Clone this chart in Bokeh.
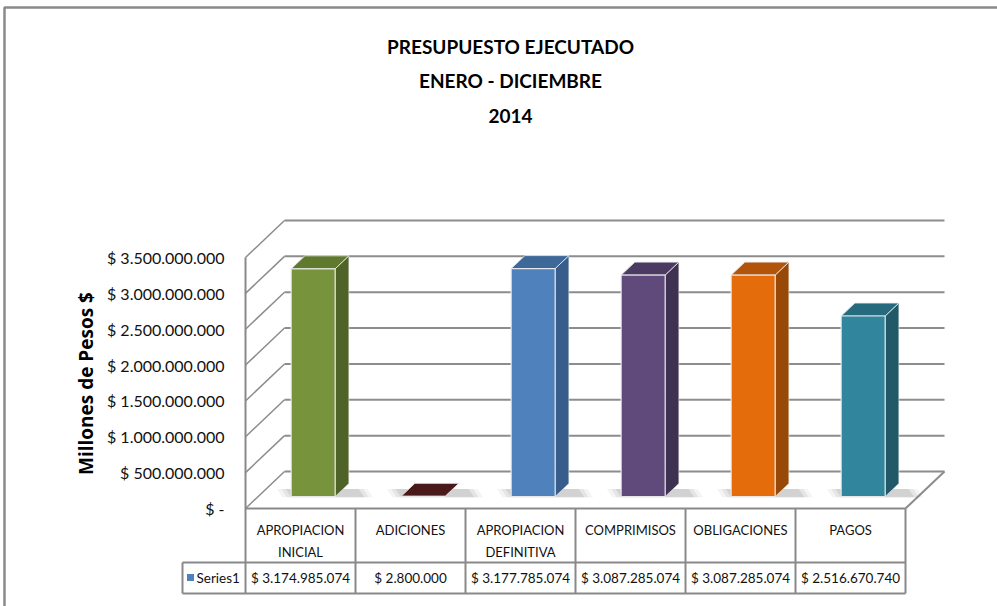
import numpy as np
from bokeh.plotting import figure
from bokeh.models import Range1d
from bokeh.core.properties import value
from bokeh.embed import file_html
from bokeh.resources import INLINE

# ---------------- data ----------------
categories = ["APROPIACION\nINICIAL", "ADICIONES", "APROPIACION\nDEFINITIVA",
              "COMPRIMISOS", "OBLIGACIONES", "PAGOS"]
values = [3174985074, 2800000, 3177785074, 3087285074, 3087285074, 2516670740]
series_name = "Series1"
front_colors = ["#77933C", "#632523", "#4F81BD", "#604A7B", "#E46C0A", "#31859C"]
top_colors = ["#5F7A2F", "#4A1A1A", "#3E6898", "#4B3B62", "#B2540A", "#266B7D"]
side_colors = ["#4F6228", "#3D1616", "#385D8A", "#3F3151", "#984807", "#215968"]
y_ticks = [0, 500000000, 1000000000, 1500000000, 2000000000,
           2500000000, 3000000000, 3500000000]
y_tick_labels = ["$ -", "$ 500.000.000", "$ 1.000.000.000", "$ 1.500.000.000",
                 "$ 2.000.000.000", "$ 2.500.000.000", "$ 3.000.000.000",
                 "$ 3.500.000.000"]
title_lines = ["PRESUPUESTO EJECUTADO", "ENERO - DICIEMBRE", "2014"]
y_axis_title = "Millones de Pesos $"
legend_color = "#4F81BD"

# ---------------- layout (pixels) ----------------
W, H = 997, 606
FRONT_LEFT_PX = 245
COL_PX = 110
ZERO_PX = 508
TOP_TICK_PX = 257
DEPTH_DX_PX = 39
DEPTH_DY_PX = 37
PX_PER_VAL = (ZERO_PX - TOP_TICK_PX) / y_ticks[-1]


def px2x(px):
    return (px - FRONT_LEFT_PX) / COL_PX - 0.5


def px2y(py):
    return (ZERO_PX - py) / PX_PER_VAL


DX = DEPTH_DX_PX / COL_PX
DY = DEPTH_DY_PX / PX_PER_VAL
n = len(categories)

p = figure(width=W, height=H, min_border=0, output_backend="svg",
           toolbar_location=None, x_axis_type=None, y_axis_type=None,
           x_range=Range1d(px2x(0), px2x(W)), y_range=Range1d(px2y(H), px2y(0)))
p.outline_line_color = None
p.background_fill_color = "white"
p.border_fill_color = "white"

GRID = "#8C8C8C"
FONT = value("Lato")

# outer chart border (top & left)
p.line([px2x(4), px2x(4), px2x(W + 5)], [px2y(H + 5), px2y(7), px2y(7)],
       line_color="#8A8A8A", line_width=2.5)

# ---------------- walls / floor ----------------
left_x = -0.5
right_x = n - 0.5
p.multi_line([[left_x + DX, right_x + DX] for _ in y_ticks],
             [[t + DY, t + DY] for t in y_ticks], line_color=GRID, line_width=2)
p.multi_line([[left_x, left_x + DX] for _ in y_ticks],
             [[t, t + DY] for t in y_ticks], line_color=GRID, line_width=1.5)
p.line([right_x, right_x + DX], [0, DY], line_color=GRID, line_width=2)

# ---------------- bars ----------------
z0, z1 = 12 / 37, 25 / 37
bw = 0.2
xs = np.arange(n)
lf = xs - bw + z0 * DX
rf = xs + bw + z0 * DX
lb = xs - bw + z1 * DX
rb = xs + bw + z1 * DX
vals = np.array(values, dtype=float)
b0 = z0 * DY
b1 = z1 * DY
t0 = vals + z0 * DY
t1 = vals + z1 * DY

# soft shadows on floor
for k, a in [(0.10, 0.07), (0.06, 0.10), (0.02, 0.14)]:
    sx = [[lf[i] - k + 0.02, rb[i] + k + 0.12, rb[i] + k + 0.12 - 0.05, lf[i] - k - 0.03]
          for i in range(n)]
    sy = [[b0 - 0.02 * DY, b0 - 0.02 * DY, b1 - 0.15 * DY, b1 - 0.15 * DY] for _ in range(n)]
    p.patches(sx, sy, fill_color="#606060", fill_alpha=a, line_color=None)

outline = "#EDEDED"
p.patches([[rf[i], rb[i], rb[i], rf[i]] for i in range(n)],
          [[b0, b1, t1[i], t0[i]] for i in range(n)],
          fill_color=side_colors, line_color=outline, line_width=0.8, line_alpha=0.7)
p.patches([[lf[i], rf[i], rb[i], lb[i]] for i in range(n)],
          [[t0[i], t0[i], t1[i], t1[i]] for i in range(n)],
          fill_color=top_colors, line_color=outline, line_width=1, line_alpha=0.85)
p.quad(left=lf, right=rf, bottom=b0, top=t0, fill_color=front_colors,
       line_color=outline, line_width=1.2, line_alpha=0.9)

# ---------------- table ----------------
TBL = "#898989"
hdr_bottom = px2y(562)
tbl_bottom = px2y(593)
leg_left = px2x(182)
p.segment(x0=[left_x], y0=[y_ticks[-1]], x1=[left_x], y1=[tbl_bottom],
          line_color=TBL, line_width=2)
p.segment(x0=[left_x + j for j in range(1, n + 1)], y0=[0] * n,
          x1=[left_x + j for j in range(1, n + 1)], y1=[tbl_bottom] * n,
          line_color=TBL, line_width=2)
p.segment(x0=[leg_left], y0=[hdr_bottom], x1=[leg_left], y1=[tbl_bottom],
          line_color=TBL, line_width=2)
p.segment(x0=[left_x, leg_left, leg_left], y0=[0, hdr_bottom, tbl_bottom],
          x1=[right_x, right_x, right_x], y1=[0, hdr_bottom, tbl_bottom],
          line_color=TBL, line_width=2)

line1 = [c.split("\n")[0] for c in categories]
line2 = [c.split("\n")[1] if "\n" in c else "" for c in categories]
p.text(x=xs, y=[px2y(529)] * n, text=line1, text_font=FONT,
       text_font_size="13px", text_align="center", text_baseline="middle",
       text_color="#111111")
p.text(x=xs, y=[px2y(551)] * n, text=line2, text_font=FONT,
       text_font_size="13px", text_align="center", text_baseline="middle",
       text_color="#111111")
val_labels = ["$ " + f"{v:,}".replace(",", ".") for v in values]
p.text(x=xs, y=[px2y(577)] * n, text=val_labels, text_font=FONT,
       text_font_size="13.5px", text_align="center", text_baseline="middle",
       text_color="#111111")
p.scatter(x=[px2x(190)], y=[px2y(577)], marker="square", size=7,
          fill_color=legend_color, line_color=None)
p.text(x=[px2x(196)], y=[px2y(577)], text=[series_name], text_font=FONT,
       text_font_size="13.5px", text_align="left", text_baseline="middle",
       text_color="#111111")

# ---------------- y tick labels & titles ----------------
p.text(x=[px2x(224)] * len(y_ticks), y=y_ticks, text=y_tick_labels,
       text_font=FONT, text_font_size="16px", text_align="right",
       text_baseline="middle", text_color="#111111")
p.text(x=[px2x(85)], y=[px2y(383)], text=[y_axis_title], angle=np.pi / 2,
       text_font=value("Open Sans"), text_font_style="bold", text_font_size="19px",
       text_align="center", text_baseline="middle", text_color="black")

p.text(x=[px2x(510)] * 3, y=[px2y(46), px2y(80), px2y(115)], text=title_lines,
       text_font=FONT, text_font_style="bold",
       text_font_size="19px", text_align="center", text_baseline="middle",
       text_color="black")

open("out.html", "w").write(file_html(p, INLINE))
